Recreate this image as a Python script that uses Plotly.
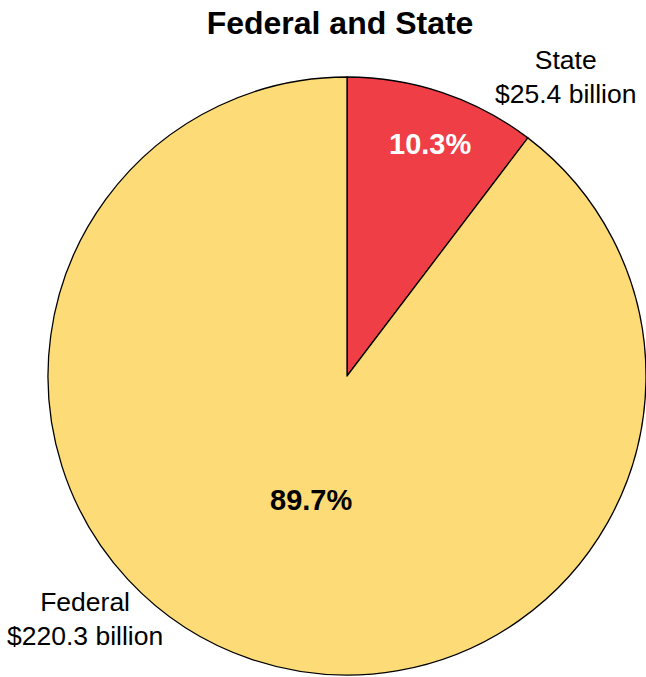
import plotly.graph_objects as go

categories = ["State", "Federal"]
values = [25.4, 220.3]
colors = ["#EF3E45", "#FDDC78"]
pct_colors = ["white", "black"]

W, H = 646, 677
FONT = "Liberation Sans, Arial, sans-serif"

# pie domain in window pixels
dx0, dx1 = 48, 646
dy0, dy1 = 76, 676  # from top


def fx(px):
    return px / W


def fy(py):
    return 1 - py / H


fig = go.Figure(go.Pie(
    labels=categories, values=values, sort=False, direction="clockwise",
    rotation=0, marker=dict(colors=colors, line=dict(color="black", width=1.3)),
    textinfo="none", hoverinfo="label+value+percent", showlegend=False,
    domain=dict(x=[max(0, fx(dx0)), min(1, fx(dx1))], y=[max(0, fy(dy1)), min(1, fy(dy0))]),
))

total = sum(values)
pct_pos = {"State": (430, 144), "Federal": (311, 500)}
outer_pos = {"State": (565, 77), "Federal": (85, 619)}
annotations = []
for cat, v, col in zip(categories, values, pct_colors):
    px, py = pct_pos[cat]
    annotations.append(dict(
        x=fx(px), y=fy(py), xref="paper", yref="paper", showarrow=False,
        xanchor="center", yanchor="middle",
        text=f"<b>{v / total * 100:.1f}%</b>", font=dict(size=29, color=col, family=FONT),
    ))
    px, py = outer_pos[cat]
    annotations.append(dict(
        x=fx(px), y=fy(py), xref="paper", yref="paper", showarrow=False,
        xanchor="center", yanchor="middle",
        text=f"{cat}<br>${v:.1f} billion", align="center",
        font=dict(size=26.5, color="black", family=FONT),
    ))

fig.update_layout(
    width=W, height=H, margin=dict(l=0, r=0, t=0, b=0),
    paper_bgcolor="white", plot_bgcolor="white",
    title=dict(text="<b>Federal and State</b>", x=fx(340), y=fy(23),
               xanchor="center", yanchor="middle",
               font=dict(size=32, color="black", family=FONT)),
    annotations=annotations,
)

fig.write_html("out.html", config={"displayModeBar": False},
               post_script="document.body.style.margin='0';")
